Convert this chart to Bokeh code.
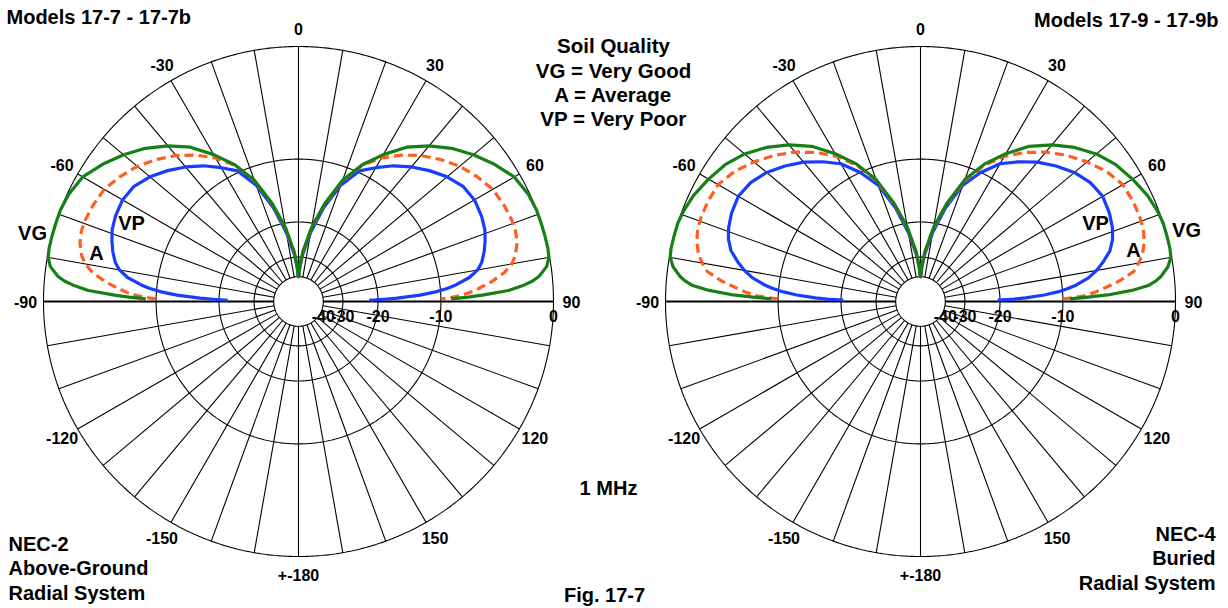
import numpy as np
from bokeh.plotting import figure
from bokeh.models import Range1d
from bokeh.core.properties import value
from bokeh.embed import file_html
from bokeh.resources import INLINE

# ---------------- data ----------------
# elevation angles (deg above horizon) at which the patterns were read
ELEV = [1, 1.5, 2, 3, 4, 5, 6, 8, 10, 12, 15, 18, 21, 25, 30, 35, 40, 45, 50, 55, 60, 65, 70, 75, 80, 85, 88, 89.5]

# Models 17-7 - 17-7b (NEC-2, above-ground radials), gain in dB
L_VG = [-8.8, -7.0, -5.6, -3.3, -2.2, -1.4, -0.9, -0.3, -0.05, 0.0, 0.0, 0.0, 0.0, -0.1, -0.4, -1.1, -1.9, -2.8,
        -3.9, -5.2, -7.0, -9.0, -11.7, -15.8, -21.0, -28.0, -34.0, -40.0]
L_A = [-10.0, -8.8, -7.9, -6.8, -6.0, -5.3, -4.6, -3.5, -2.8, -2.4, -2.05, -1.9, -1.9, -2.0, -2.2, -2.7, -3.3, -4.1,
       -5.0, -6.1, -7.4, -9.1, -11.8, -16.0, -21.3, -28.2, -34.0, -40.0]
L_VP = [-22.0, -18.8, -16.3, -12.7, -10.6, -9.2, -8.2, -6.7, -5.8, -5.3, -4.85, -4.5, -4.2, -4.0, -3.9, -4.1, -4.7,
        -5.5, -6.4, -7.4, -8.6, -9.8, -12.4, -16.6, -22.2, -29.0, -35.0, -40.0]

# Models 17-9 - 17-9b (NEC-4, buried radials), gain in dB
R_VG = [-9.2, -7.2, -5.3, -3.2, -1.9, -1.3, -0.9, -0.35, -0.05, 0.0, 0.0, 0.0, -0.1, -0.3, -0.7, -1.15, -1.8, -2.7,
        -3.8, -5.1, -6.9, -8.9, -11.6, -15.8, -21.0, -28.0, -34.0, -40.0]
R_A = [-10.0, -8.7, -7.6, -6.5, -5.7, -4.9, -4.1, -2.9, -2.4, -2.0, -1.65, -1.45, -1.4, -1.4, -1.5, -2.0, -2.75,
       -3.6, -4.6, -5.8, -7.2, -9.1, -11.8, -16.0, -21.3, -28.2, -34.0, -40.0]
R_VP = [-20.5, -17.2, -15.2, -12.4, -10.6, -9.4, -8.4, -7.0, -6.1, -5.4, -4.5, -4.0, -3.7, -3.45, -3.3, -3.55, -4.1,
        -4.9, -5.8, -6.9, -8.1, -10.0, -12.4, -16.6, -22.2, -29.0, -35.0, -40.0]

RING_DB = [0, -10, -20, -30, -40]
RING_LABELS = ["0", "-10", "-20", "-30", "-40"]
ANGLE_TICKS = [0, 30, 60, 90, 120, 150, 180, -150, -120, -90, -60, -30]
ANGLE_LABELS = ["0", "30", "60", "90", "120", "150", "+-180", "-150", "-120", "-90", "-60", "-30"]

GREEN = "#168016"
ORANGE = "#ff5f1e"
BLUE = "#1a3cff"
FONT = value("Liberation Sans")

# ---------------- layout ----------------
PX = 255.0          # pixels per unit radius (0 dB ring)
W, H = 1228, 608
def X(ix):  # picture pixel -> data x
    return (ix - 298) / PX
def Y(iy):  # picture pixel -> data y
    return (301 - iy) / PX

p = figure(width=W, height=H, x_range=Range1d(X(0), X(W)), y_range=Range1d(Y(H), Y(0)),
           output_backend="svg", toolbar_location=None, min_border=0,
           outline_line_color=None, background_fill_color="white", border_fill_color="white")
p.axis.visible = False
p.grid.visible = False


def rad(db):
    # ARRL log-periodic scale: 0.89 per 2 dB
    return 0.89 ** (-np.asarray(db, dtype=float) / 2.0)


def polar_chart(cx):
    r_hole = rad(-40)
    t = np.radians(np.linspace(0, 360, 721))
    xs, ys = [], []
    for db in RING_DB:
        r = rad(db)
        xs.append(list(cx + r * np.sin(t)))
        ys.append(list(r * np.cos(t)))
    p.multi_line(xs, ys, line_color="black", line_width=1.1)
    # radial spokes every 10 degrees
    sx, sy = [], []
    for a in range(0, 360, 10):
        th = np.radians(a)
        sx.append([cx + r_hole * np.sin(th), cx + np.sin(th)])
        sy.append([r_hole * np.cos(th), np.cos(th)])
    p.multi_line(sx, sy, line_color="black", line_width=1.1)
    # horizon line slightly heavier
    p.multi_line([[cx - 1, cx - r_hole], [cx + r_hole, cx + 1]], [[0, 0], [0, 0]],
                 line_color="black", line_width=1.8)
    # angle labels
    th = np.radians(ANGLE_TICKS)
    rl = 273 / PX
    p.text(cx + rl * np.sin(th), rl * np.cos(th), text=ANGLE_LABELS, text_font=FONT,
           text_font_style="bold", text_font_size="16px", text_align="center",
           text_baseline="middle", text_color="black")
    # dB labels along the right horizon
    p.text(cx + rad(RING_DB), [Y(315)] * len(RING_DB), text=RING_LABELS, text_font=FONT,
           text_font_style="bold", text_font_size="16px", text_align="center",
           text_baseline="middle", text_color="black")


def pattern(cx, db, color, dash="solid"):
    e = np.asarray(ELEV, dtype=float)
    r = rad(db)
    th_left = np.radians(-(90 - e))
    th_right = np.radians(90 - e[::-1])
    r_right = r[::-1]
    xs = np.concatenate([cx + r * np.sin(th_left), cx + r_right * np.sin(th_right)])
    ys = np.concatenate([r * np.cos(th_left), r_right * np.cos(th_right)])
    p.line(xs, ys, line_color=color, line_width=3.2, line_dash=dash, line_join="round")


CX_L = 0.0
CX_R = X(920)
for cx, vg, a, vp in [(CX_L, L_VG, L_A, L_VP), (CX_R, R_VG, R_A, R_VP)]:
    polar_chart(cx)
    pattern(cx, vp, BLUE)
    pattern(cx, a, ORANGE, "9 5")
    pattern(cx, vg, GREEN)


def txt(ix, iy, s, size="20px", align="left"):
    # iy is the vertical middle of the capital letters
    p.text([X(ix)], [Y(iy)], text=[s], text_font=FONT, text_font_style="bold",
           text_font_size=size, text_align=align, text_baseline="middle", text_color="black")


txt(6, 16, "Models 17-7 - 17-7b")
txt(1218, 19, "Models 17-9 - 17-9b", align="right")
txt(613, 45, "Soil Quality", "20.5px", "center")
txt(613, 70, "VG = Very Good", "20.5px", "center")
txt(613, 94, "A = Average", "20.5px", "center")
txt(613, 118, "VP = Very Poor", "20.5px", "center")
txt(608, 487, "1 MHz", "20px", "center")
txt(604, 594, "Fig. 17-7", "20px", "center")
txt(8, 543, "NEC-2")
txt(8, 567, "Above-Ground")
txt(8, 592, "Radial System")
txt(1215, 533, "NEC-4", align="right")
txt(1215, 557, "Buried", align="right")
txt(1215, 582, "Radial System", align="right")
# curve labels
txt(32, 232, "VG", "20px", "center")
txt(131, 222, "VP", "20px", "center")
txt(96, 252, "A", "20px", "center")
txt(1095, 222, "VP", "20px", "center")
txt(1186, 229, "VG", "20px", "center")
txt(1133, 249, "A", "20px", "center")

open("out.html", "w").write(file_html(p, INLINE))
